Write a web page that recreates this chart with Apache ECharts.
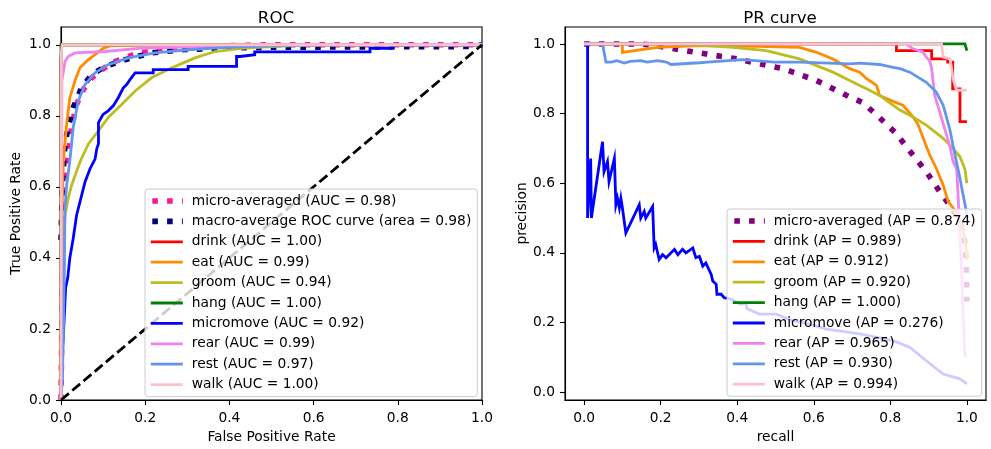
<!DOCTYPE html>
<html>
<head>
<meta charset="utf-8">
<script src="https://cdn.jsdelivr.net/npm/echarts@6/dist/echarts.min.js"></script>
<style>
html,body{margin:0;padding:0;background:#fff;}
#c{width:991px;height:449px;}
</style>
</head>
<body>
<div id="c"></div>
<script>
// ---------- tick labels ----------
const tickValues = [0, 0.2, 0.4, 0.6, 0.8, 1.0];

// ---------- ROC curves: [fpr, tpr] ----------
const rocMicro = [[0,0],[0.001,0.1],[0.003,0.35],[0.006,0.6],[0.017,0.683],[0.025,0.767],[0.037,0.832],[0.053,0.874],[0.073,0.907],[0.097,0.93],[0.128,0.953],[0.184,0.977],[0.263,0.99],[0.38,0.997],[0.5,1.0],[1,1]];
const rocMacro = [[0,0.45],[0.003,0.6],[0.0095,0.721],[0.017,0.767],[0.029,0.823],[0.049,0.879],[0.073,0.916],[0.105,0.939],[0.152,0.958],[0.215,0.977],[0.287,0.986],[0.366,0.99],[0.5,0.993],[0.98,0.995],[1,1]];
const rocDrink = [[0,0],[0,0.96],[0.002,1],[1,1]];
const rocEat = [[0,0],[0.001,0.4],[0.003,0.55],[0.0055,0.674],[0.0135,0.777],[0.021,0.851],[0.033,0.898],[0.045,0.935],[0.065,0.958],[0.081,0.972],[0.1,0.99],[0.116,0.997],[0.2,1.0],[1,1]];
const rocGroom = [[0,0],[0.001,0.15],[0.003,0.3],[0.0055,0.474],[0.0095,0.52],[0.017,0.567],[0.025,0.604],[0.045,0.67],[0.065,0.721],[0.089,0.758],[0.112,0.795],[0.144,0.832],[0.176,0.87],[0.215,0.907],[0.263,0.935],[0.318,0.963],[0.366,0.981],[0.429,0.99],[0.5,0.995],[0.6,1.0],[1,1]];
const rocHang = [[0,0],[0,1],[1,1]];
const rocMicromove = [[0,0],[0.002,0.05],[0.004,0.15],[0.0055,0.18],[0.008,0.24],[0.011,0.316],[0.016,0.344],[0.021,0.4],[0.029,0.455],[0.037,0.52],[0.049,0.576],[0.057,0.614],[0.069,0.651],[0.081,0.679],[0.085,0.707],[0.089,0.721],[0.089,0.781],[0.1,0.804],[0.112,0.814],[0.124,0.828],[0.136,0.851],[0.148,0.879],[0.156,0.888],[0.164,0.902],[0.176,0.921],[0.219,0.921],[0.219,0.93],[0.302,0.93],[0.302,0.939],[0.417,0.939],[0.417,0.967],[0.425,0.967],[0.425,0.972],[0.46,0.972],[0.46,0.98],[0.734,0.98],[0.734,0.99],[0.785,0.99],[0.785,1.0],[1,1]];
const rocRear = [[0,0],[0.001,0.5],[0.002,0.898],[0.0095,0.953],[0.017,0.967],[0.033,0.977],[0.105,0.981],[0.184,0.99],[0.342,0.995],[0.5,1.0],[1,1]];
const rocRest = [[0,0],[0.003,0.056],[0.0055,0.176],[0.008,0.381],[0.0095,0.539],[0.013,0.6],[0.021,0.674],[0.029,0.767],[0.041,0.842],[0.057,0.888],[0.081,0.921],[0.112,0.944],[0.16,0.963],[0.223,0.977],[0.302,0.986],[0.382,0.992],[0.5,0.997],[0.6,1.0],[1,1]];
const rocWalk = [[0,0],[0.001,0.98],[0.003,1.0],[1,1]];
const rocChance = [[0,0],[1,1]];

// ---------- PR curves: [recall, precision] ----------
const prMicro = [[0,1],[0.15,1.0],[0.2,0.993],[0.236,0.986],[0.32,0.971],[0.4,0.957],[0.48,0.938],[0.52,0.929],[0.607,0.895],[0.694,0.848],[0.729,0.831],[0.772,0.788],[0.816,0.742],[0.859,0.681],[0.894,0.633],[0.929,0.576],[0.951,0.543],[0.982,0.49],[0.995,0.43],[0.999,0.36],[1.0,0.26]];
const prDrink = [[0,1],[0.816,1],[0.816,0.981],[0.908,0.981],[0.908,0.957],[0.95,0.957],[0.95,0.948],[0.963,0.948],[0.963,0.871],[0.982,0.871],[0.982,0.777],[1.0,0.777]];
const prEat = [[0,1],[0.1,1],[0.1,0.976],[0.192,0.99],[0.301,0.995],[0.45,0.993],[0.563,0.99],[0.607,0.976],[0.65,0.957],[0.694,0.929],[0.72,0.919],[0.738,0.9],[0.764,0.881],[0.772,0.852],[0.807,0.835],[0.833,0.824],[0.86,0.79],[0.873,0.767],[0.886,0.729],[0.903,0.681],[0.92,0.643],[0.938,0.595],[0.951,0.548],[0.964,0.529],[0.99,0.471],[0.999,0.405],[1.0,0.38]];
const prGroom = [[0,1],[0.2,1.0],[0.32,0.995],[0.388,0.99],[0.476,0.981],[0.563,0.957],[0.65,0.919],[0.72,0.881],[0.738,0.871],[0.772,0.852],[0.807,0.824],[0.825,0.81],[0.851,0.795],[0.894,0.767],[0.938,0.729],[0.964,0.7],[0.982,0.676],[0.995,0.64],[1.0,0.6]];
const prHang = [[0,1],[0.995,1],[1.0,0.981]];
const prMicromove = [[0,1],[0.009,1.0],[0.009,0.5],[0.017,0.671],[0.019,0.5],[0.048,0.719],[0.052,0.633],[0.061,0.662],[0.065,0.605],[0.079,0.671],[0.083,0.538],[0.087,0.557],[0.092,0.529],[0.096,0.557],[0.1,0.529],[0.109,0.457],[0.144,0.538],[0.148,0.5],[0.157,0.519],[0.161,0.5],[0.179,0.533],[0.183,0.414],[0.187,0.424],[0.196,0.381],[0.205,0.395],[0.214,0.386],[0.236,0.41],[0.245,0.395],[0.257,0.41],[0.266,0.4],[0.284,0.414],[0.292,0.386],[0.301,0.39],[0.31,0.362],[0.318,0.371],[0.332,0.338],[0.336,0.319],[0.345,0.31],[0.347,0.281],[0.358,0.281],[0.366,0.271],[0.384,0.267],[0.41,0.252],[0.423,0.257],[0.425,0.24],[0.458,0.224],[0.502,0.224],[0.545,0.205],[0.589,0.195],[0.633,0.181],[0.72,0.167],[0.807,0.148],[0.851,0.129],[0.894,0.09],[0.938,0.052],[0.982,0.038],[1.0,0.024]];
const prRear = [[0,1],[0.842,1],[0.859,0.986],[0.885,0.977],[0.894,0.962],[0.903,0.952],[0.908,0.929],[0.916,0.852],[0.929,0.805],[0.942,0.757],[0.955,0.709],[0.964,0.662],[0.973,0.643],[0.977,0.567],[0.98,0.49],[0.985,0.377],[0.99,0.234],[0.995,0.106],[1.0,0.1]];
const prRest = [[0,1],[0.048,1],[0.057,0.948],[0.062,0.952],[0.072,0.948],[0.085,0.952],[0.105,0.945],[0.12,0.95],[0.148,0.952],[0.165,0.948],[0.192,0.952],[0.215,0.948],[0.227,0.941],[0.301,0.946],[0.322,0.948],[0.414,0.955],[0.497,0.948],[0.563,0.948],[0.694,0.943],[0.72,0.945],[0.772,0.941],[0.807,0.933],[0.825,0.929],[0.851,0.919],[0.894,0.89],[0.92,0.862],[0.938,0.824],[0.955,0.757],[0.969,0.681],[0.982,0.614],[0.99,0.567],[0.997,0.529],[1.0,0.5]];
const prWalk = [[0,1],[0.934,1],[0.938,0.962],[0.956,0.957],[0.96,0.93],[0.964,0.9],[0.973,0.867],[1.0,0.867]];

// ---------- labels ----------
const rocNames = ['micro-averaged (AUC = 0.98)','macro-average ROC curve (area = 0.98)','drink (AUC = 1.00)','eat (AUC = 0.99)','groom (AUC = 0.94)','hang (AUC = 1.00)','micromove (AUC = 0.92)','rear (AUC = 0.99)','rest (AUC = 0.97)','walk (AUC = 1.00)'];
const prNames = ['micro-averaged (AP = 0.874)','drink (AP = 0.989)','eat (AP = 0.912)','groom (AP = 0.920)','hang (AP = 1.000)','micromove (AP = 0.276)','rear (AP = 0.965)','rest (AP = 0.930)','walk (AP = 0.994)'];

const FONT = 'DejaVu Sans';
const FS = 13.8;
const LW = 2.8;
const DOT = [5.6, 9.2];
const C = {drink:'#ff0000', eat:'#ff8c00', groom:'#bcbd22', hang:'#008000', micromove:'#0000ff', rear:'#ee82ee', rest:'#6495ed', walk:'#ffc0cb'};

const rocDefs = [
  [rocNames[0], rocMicro, '#ff1493', true],
  [rocNames[1], rocMacro, '#000080', true],
  [rocNames[2], rocDrink, C.drink, false],
  [rocNames[3], rocEat, C.eat, false],
  [rocNames[4], rocGroom, C.groom, false],
  [rocNames[5], rocHang, C.hang, false],
  [rocNames[6], rocMicromove, C.micromove, false],
  [rocNames[7], rocRear, C.rear, false],
  [rocNames[8], rocRest, C.rest, false],
  [rocNames[9], rocWalk, C.walk, false]
];
const prDefs = [
  [prNames[0], prMicro, '#800080', true],
  [prNames[1], prDrink, C.drink, false],
  [prNames[2], prEat, C.eat, false],
  [prNames[3], prGroom, C.groom, false],
  [prNames[4], prHang, C.hang, false],
  [prNames[5], prMicromove, C.micromove, false],
  [prNames[6], prRear, C.rear, false],
  [prNames[7], prRest, C.rest, false],
  [prNames[8], prWalk, C.walk, false]
];

function mkSeries(def, gi) {
  const [name, data, color, dotted] = def;
  return {
    name, type:'line', xAxisIndex:gi, yAxisIndex:gi, data,
    symbol:'none', showSymbol:false, smooth:false, silent:true,
    lineStyle:{color, width: dotted ? 5.6 : LW, type: dotted ? DOT : 'solid', cap:'butt', join:'miter'},
    itemStyle:{color},
    emphasis:{disabled:true}
  };
}
function mkLegendData(defs) {
  return defs.map(d => ({
    name:d[0],
    lineStyle:{color:d[2], width: d[3] ? 5.6 : LW, type: d[3] ? DOT : 'solid', cap:'butt', dashOffset: d[3] ? 13.3 : 0},
    itemStyle:{color:d[2], opacity:0, borderWidth:0}
  }));
}
function mkLegend(defs, left, top) {
  return {
    data: mkLegendData(defs), orient:'vertical', left, top,
    itemWidth:32, itemHeight:14, itemGap:6.4, padding:[5,6,5,3],
    backgroundColor:'rgba(255,255,255,0.8)', borderColor:'#cccccc', borderWidth:1, borderRadius:3,
    textStyle:{fontFamily:FONT, fontSize:FS, color:'#000', padding:[0,0,0,4]},
    selectedMode:false, z:10
  };
}
function mkAxis(gi, min, max, name, gap, isY) {
  return {
    gridIndex:gi, type:'value', min, max,
    name, nameLocation:'middle', nameGap:gap,
    nameTextStyle:{fontFamily:FONT, fontSize:FS, color:'#000'},
    axisLine:{show:true, onZero:false, lineStyle:{color:'#000', width:1.1}},
    axisTick:{show:true, length:5, customValues:tickValues, lineStyle:{color:'#000', width:1.1}},
    axisLabel:{customValues:tickValues, margin: isY ? 10 : 11, fontFamily:FONT, fontSize:FS, color:'#000',
      formatter: v => Number(v).toFixed(1)},
    splitLine:{show:false}
  };
}

const option = {
  animation:false,
  backgroundColor:'#fff',
  title:[
    {text:'ROC', left:271, top:5, textAlign:'center', textStyle:{fontFamily:FONT, fontSize:16.7, fontWeight:'normal', color:'#000'}},
    {text:'PR curve', left:775, top:5, textAlign:'center', textStyle:{fontFamily:FONT, fontSize:16.7, fontWeight:'normal', color:'#000'}}
  ],
  grid:[
    {left:61, top:27, width:421, height:376, show:true, borderColor:'#000', borderWidth:1.1, backgroundColor:'transparent'},
    {left:565, top:27, width:421, height:376, show:true, borderColor:'#000', borderWidth:1.1, backgroundColor:'transparent'}
  ],
  xAxis:[
    mkAxis(0, 0, 1, 'False Positive Rate', 30, false),
    mkAxis(1, -0.05, 1.05, 'recall', 30, false)
  ],
  yAxis:[
    mkAxis(0, 0, 1.05, 'True Positive Rate', 38, true),
    mkAxis(1, -0.0227, 1.0487, 'precision', 34, true)
  ],
  legend:[ mkLegend(rocDefs, 145, 189), mkLegend(prDefs, 727, 209) ],
  series:[
    ...rocDefs.map(d => mkSeries(d, 0)),
    {name:'chance', type:'line', xAxisIndex:0, yAxisIndex:0, data:rocChance, symbol:'none', silent:true,
     lineStyle:{color:'#000', width:LW, type:[10.3, 4.4], cap:'butt'}, emphasis:{disabled:true}},
    ...prDefs.map(d => mkSeries(d, 1))
  ]
};
const chart = echarts.init(document.getElementById('c'), null, {renderer:'canvas'});
chart.setOption(option);
</script>
</body>
</html>
